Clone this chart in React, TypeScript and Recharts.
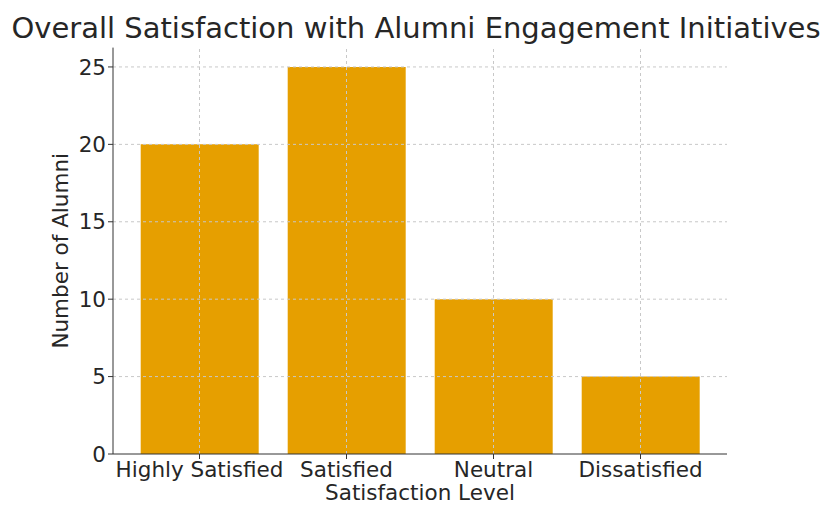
import { Bar, BarChart, Label, ReferenceLine, XAxis, YAxis } from "recharts";

// Survey counts per satisfaction level
const levels = ["Highly Satisfied", "Satisfied", "Neutral", "Dissatisfied"];
const alumniCounts = [20, 25, 10, 5];
const yTicks = [0, 5, 10, 15, 20, 25];

const data = levels.map((level, i) => ({ level, count: alumniCounts[i] }));

const FONT = "'DejaVu Sans', sans-serif";
const TEXT = "#262626";
const BAR = "#E69F00";
const GRID = "#c8c8c8";

export default function App() {
  return (
    <div style={{ position: "absolute", left: 0, top: 0, width: 832, height: 508, background: "#fff", fontFamily: FONT }}>
      <div
        style={{
          position: "absolute",
          left: 0,
          width: 832,
          top: 11,
          textAlign: "center",
          fontSize: 29,
          color: TEXT,
          lineHeight: "34px",
          whiteSpace: "nowrap",
        }}
      >
        Overall Satisfaction with Alumni Engagement Initiatives
      </div>
      <BarChart
        width={832}
        height={508}
        data={data}
        margin={{ top: 47.6, right: 105, bottom: 0, left: 0 }}
        barCategoryGap="10%"
      >
        <XAxis
          dataKey="level"
          height={54}
          padding={{ left: 13, right: 13 }}
          stroke="#333"
          tickLine={{ stroke: "#333" }}
          tickSize={5}
          tick={{ fill: TEXT, fontSize: 21.5, fontFamily: FONT, dy: 1 }}
          interval={0}
        >
          <Label value="Satisfaction Level" position="insideBottom" offset={8} fill={TEXT} fontSize={21.5} fontFamily={FONT} />
        </XAxis>
        <YAxis
          width={113}
          domain={[0, 26.25]}
          ticks={yTicks}
          allowDataOverflow
          stroke="#333"
          tickSize={5}
          tick={{ fill: TEXT, fontSize: 21.5, fontFamily: FONT }}
        >
          <Label
            value="Number of Alumni"
            angle={-90}
            position="insideLeft"
            offset={60}
            style={{ textAnchor: "middle" }}
            fill={TEXT}
            fontSize={21.5}
            fontFamily={FONT}
          />
        </YAxis>
        <Bar dataKey="count" fill={BAR} isAnimationActive={false} />
        {/* grid lines sit above the bars */}
        {yTicks.slice(1).map((t) => (
          <ReferenceLine key={`y${t}`} y={t} stroke={GRID} strokeDasharray="3 3" />
        ))}
        {levels.map((l) => (
          <ReferenceLine key={`x${l}`} x={l} stroke={GRID} strokeDasharray="3 3" />
        ))}
      </BarChart>
    </div>
  );
}
